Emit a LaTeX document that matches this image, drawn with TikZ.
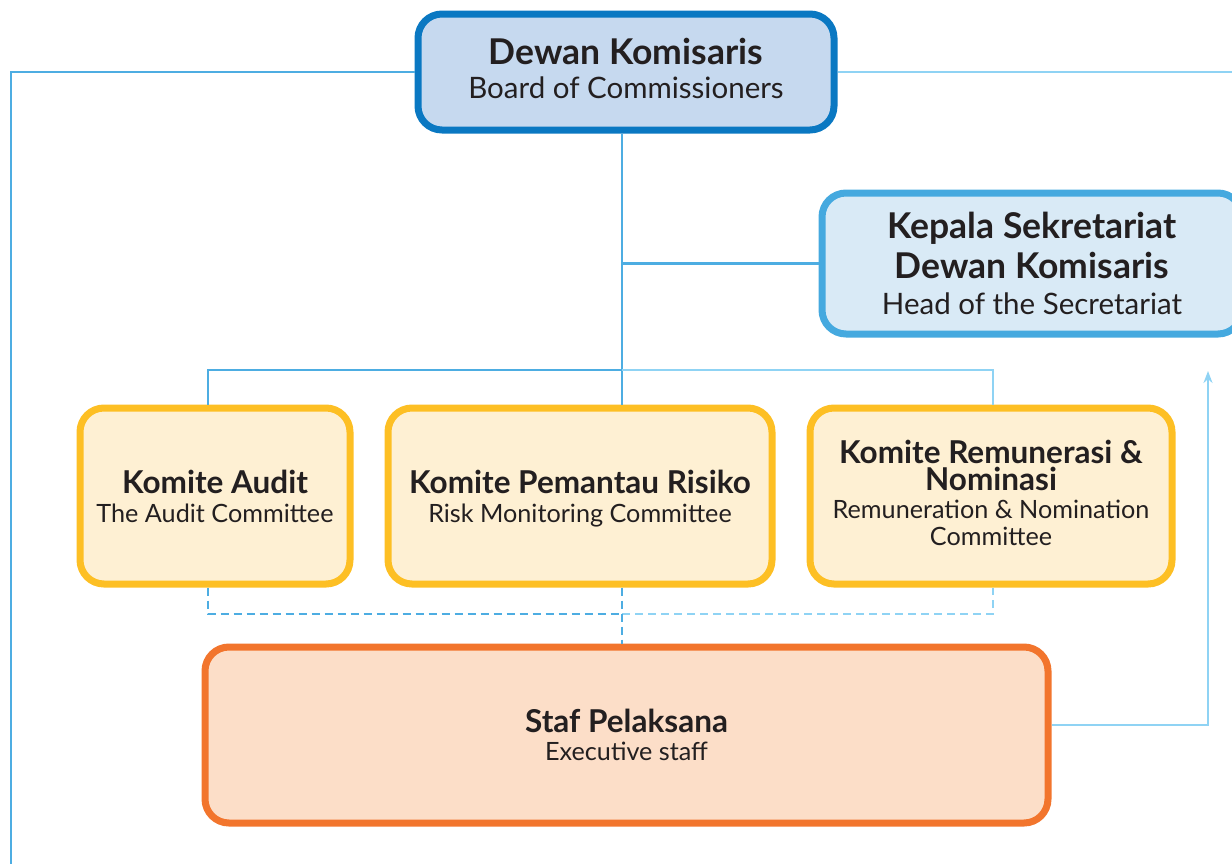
\documentclass[tikz,border=0pt]{standalone}
\usepackage{fontspec}
\setmainfont{Lato}
\usetikzlibrary{arrows.meta}

\definecolor{boardline}{HTML}{0A78C2}
\definecolor{boardfill}{HTML}{C6D9EF}
\definecolor{secline}{HTML}{45A9DF}
\definecolor{secfill}{HTML}{D9EAF6}
\definecolor{comline}{HTML}{FDBF24}
\definecolor{comfill}{HTML}{FEF0D3}
\definecolor{staffline}{HTML}{F2752D}
\definecolor{stafffill}{HTML}{FCDEC8}
\definecolor{linkdark}{HTML}{4DADE2}
\definecolor{linklight}{HTML}{8FD3F4}
\definecolor{ink}{HTML}{231F20}

% heading lines inside the boxes (the box font sets the line spacing)
\newcommand{\unithead}[1]{{\fontsize{35.5}{36}\selectfont\bfseries #1}}
\newcommand{\comhead}[1]{{\fontsize{31.5}{29}\selectfont\bfseries #1}}

\tikzset{
  unitbox/.style={rounded corners=24pt, line width=7pt, inner sep=0pt,
    align=center, text=ink},
  bigtext/.style={font=\fontsize{29.5}{36}\selectfont},
  smalltext/.style={font=\fontsize{25.2}{29}\selectfont},
  boardbox/.style={unitbox, bigtext, draw=boardline, fill=boardfill},
  secbox/.style={unitbox, bigtext, draw=secline, fill=secfill},
  combox/.style={unitbox, smalltext, text depth=0pt, draw=comline, fill=comfill},
  staffbox/.style={unitbox, smalltext, draw=staffline, fill=stafffill},
  link/.style={line width=2.6pt, draw=linkdark},
  lightlink/.style={line width=2.6pt, draw=linklight},
  dashlink/.style={line width=2.6pt, draw=linkdark, dashed, dash pattern=on 8pt off 5pt},
}

\begin{document}
\begin{tikzpicture}[x=1pt,y=-1pt]
\useasboundingbox (0,0) rectangle (1232,863);
\clip (0,0) rectangle (1232,863);

% boxes
\node[boardbox, text depth=8pt, minimum width=416pt, minimum height=116pt] (board) at (626,72)
  {\unithead{Dewan Komisaris}\\[-2pt]Board of Commissioners};
\node[secbox, minimum width=420pt, minimum height=141pt] (sec) at (1032,263.5)
  {\unithead{Kepala Sekretariat}\\[4pt]\unithead{Dewan Komisaris}\\Head of the Secretariat};
\node[combox, minimum width=270pt, minimum height=176pt] (audit) at (215,496)
  {\comhead{Komite Audit}\\The Audit Committee};
\node[combox, minimum width=384pt, minimum height=176pt] (risk) at (580,496)
  {\comhead{Komite Pemantau Risiko}\\Risk Monitoring Committee};
\node[combox, text depth=7pt, minimum width=362pt, minimum height=176pt] (remun) at (991,496)
  {\comhead{Komite Remunerasi \&}\\[-2pt]\comhead{Nominasi}\\[-1pt]Remuneration \& Nomination\\[-2pt]Committee};
\node[staffbox, text depth=0pt, minimum width=843pt, minimum height=176pt] (staff) at (626.5,735)
  {\comhead{Staf Pelaksana}\\[-1pt]Executive staff};

% reference points for the connector runs
\coordinate (trunk) at (622,0);
\coordinate (lbranch) at (208,0);
\coordinate (rbranch) at (993,0);
\coordinate (bus) at (0,370);
\coordinate (dbus) at (0,614);
\coordinate (leftrail) at (11,0);
\coordinate (rightedge) at (1240,0);
\coordinate (bottomedge) at (0,870);
\coordinate (riser) at (1208,0);
\coordinate (arrowtip) at (0,371);
\coordinate (staffout) at (0,725);

% board to the outer rails
\draw[link] (board.west) -- (board.west -| leftrail) -- (bottomedge -| leftrail);
\draw[lightlink] (board.east) -- (board.east -| rightedge);

% main trunk and secretariat branch
\draw[link] (board.south -| trunk) -- (risk.north -| trunk);
\draw[link] (sec.west -| trunk) -- (sec.west);

% committee bus
\draw[link] (audit.north -| lbranch) -- (bus -| lbranch) -- (bus -| trunk);
\draw[lightlink] (bus -| trunk) -- (bus -| rbranch) -- (remun.north -| rbranch);

% dashed coordination lines to the executive staff
\draw[dashlink] (audit.south -| lbranch) -- (dbus -| lbranch) -- (dbus -| trunk);
\draw[dashlink, draw=linklight] (dbus -| trunk) -- (dbus -| rbranch) -- (remun.south -| rbranch);
\draw[dashlink] (risk.south -| trunk) -- (staff.north -| trunk);

% executive staff reports up to the secretariat
\draw[lightlink, -{Stealth[length=12pt,width=9pt]}]
  (staff.east |- staffout) -- (riser |- staffout) -- (riser |- arrowtip);
\end{tikzpicture}
\end{document}
